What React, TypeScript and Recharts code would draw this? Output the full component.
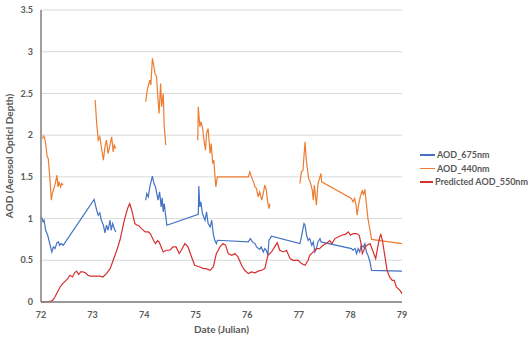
import { LineChart, Line, XAxis, YAxis, CartesianGrid, Legend } from 'recharts';

type Pt = [number, number | null];

// AOD at 675 nm (null = gap in the record)
const aod675: Pt[] = [
  [72.01, 1.02], [72.04, 0.96], [72.06, 0.98], [72.09, 0.86], [72.13, 0.8], [72.17, 0.7], [72.21, 0.6],
  [72.24, 0.66], [72.27, 0.64], [72.31, 0.71], [72.34, 0.72], [72.36, 0.68], [72.39, 0.7], [72.43, 0.68],
  [73.03, 1.23], [73.08, 1.1], [73.11, 1.04], [73.14, 1.07], [73.17, 0.98], [73.21, 0.92], [73.24, 0.83],
  [73.27, 0.92], [73.3, 0.86], [73.34, 0.98], [73.36, 0.86], [73.39, 0.94], [73.42, 0.88], [73.45, 0.84],
  [73.7, null],
  [74.03, 1.22], [74.05, 1.3], [74.08, 1.26], [74.11, 1.38], [74.16, 1.51], [74.19, 1.42], [74.22, 1.38],
  [74.27, 1.22], [74.3, 1.32], [74.33, 1.14], [74.35, 1.25], [74.37, 1.08], [74.39, 1.18], [74.44, 0.92],
  [75.05, 1.05], [75.06, 1.39], [75.08, 1.14], [75.1, 1.2], [75.13, 1.06], [75.18, 0.98], [75.21, 1.08],
  [75.24, 0.94], [75.28, 0.9], [75.31, 0.98], [75.34, 0.82], [75.37, 0.74], [75.4, 0.7], [75.42, 0.74],
  [76.02, 0.72], [76.06, 0.76], [76.1, 0.72], [76.15, 0.7], [76.18, 0.66], [76.24, 0.63], [76.27, 0.66],
  [76.31, 0.6], [76.34, 0.64], [76.37, 0.62], [76.4, 0.56], [76.42, 0.74], [76.47, 0.79],
  [77.02, 0.7], [77.05, 0.78], [77.1, 0.94], [77.12, 0.92], [77.15, 0.8], [77.18, 0.74], [77.21, 0.76],
  [77.25, 0.68], [77.28, 0.72], [77.31, 0.6], [77.34, 0.64], [77.37, 0.72], [77.41, 0.76], [77.43, 0.72],
  [78.02, 0.64], [78.05, 0.62], [78.09, 0.64], [78.12, 0.58], [78.15, 0.64], [78.18, 0.6], [78.21, 0.68],
  [78.25, 0.66], [78.28, 0.7], [78.31, 0.6], [78.34, 0.56], [78.38, 0.48], [78.41, 0.38], [79.0, 0.37],
];

// AOD at 440 nm
const aod440: Pt[] = [
  [72.03, 1.96], [72.05, 1.99], [72.07, 1.97], [72.09, 1.9], [72.12, 1.74], [72.14, 1.72], [72.17, 1.5],
  [72.2, 1.22], [72.22, 1.3], [72.24, 1.34], [72.27, 1.4], [72.29, 1.46], [72.31, 1.52], [72.33, 1.38],
  [72.35, 1.44], [72.38, 1.38], [72.4, 1.42], [72.43, 1.4],
  [72.7, null],
  [73.05, 2.42], [73.08, 2.14], [73.11, 1.94], [73.14, 1.98], [73.17, 1.86], [73.21, 1.7], [73.24, 1.86],
  [73.27, 1.94], [73.3, 1.78], [73.33, 1.86], [73.37, 1.98], [73.4, 1.8], [73.42, 1.88], [73.45, 1.84],
  [73.7, null],
  [74.03, 2.4], [74.06, 2.54], [74.11, 2.66], [74.13, 2.6], [74.16, 2.92], [74.19, 2.82], [74.21, 2.74],
  [74.24, 2.7], [74.27, 2.42], [74.29, 2.26], [74.32, 2.62], [74.34, 2.34], [74.37, 2.5], [74.39, 2.1],
  [74.42, 1.88],
  [74.7, null],
  [75.04, 1.94], [75.05, 2.34], [75.08, 2.1], [75.1, 2.16], [75.13, 2.1], [75.16, 1.94], [75.19, 1.82],
  [75.21, 2.02], [75.24, 2.08], [75.28, 1.78], [75.3, 1.9], [75.33, 1.66], [75.35, 1.7], [75.37, 1.54],
  [75.39, 1.38], [75.42, 1.5],
  [76.02, 1.5], [76.05, 1.56], [76.08, 1.5], [76.12, 1.44], [76.15, 1.38], [76.18, 1.36], [76.21, 1.26],
  [76.24, 1.32], [76.28, 1.22], [76.31, 1.3], [76.34, 1.4], [76.37, 1.34], [76.39, 1.22], [76.42, 1.12],
  [76.44, 1.18],
  [76.7, null],
  [77.02, 1.42], [77.05, 1.56], [77.08, 1.58], [77.12, 1.92], [77.14, 1.74], [77.16, 1.62], [77.19, 1.48],
  [77.22, 1.44], [77.26, 1.34], [77.28, 1.22], [77.3, 1.4], [77.34, 1.16], [77.37, 1.42], [77.4, 1.48],
  [77.43, 1.54], [77.44, 1.44],
  [78.02, 1.24], [78.05, 1.2], [78.08, 1.24], [78.11, 1.16], [78.13, 1.04], [78.16, 1.17], [78.19, 1.26],
  [78.23, 1.34], [78.25, 1.28], [78.28, 1.35], [78.31, 1.17], [78.34, 1.0], [78.38, 0.86], [78.41, 0.75],
  [79.0, 0.7],
];

// predicted AOD at 550 nm
const aod550: Pt[] = [
  [72.0, 0], [72.1, 0], [72.2, 0.01], [72.24, 0.03], [72.27, 0.06], [72.32, 0.12], [72.37, 0.18],
  [72.42, 0.22], [72.47, 0.25], [72.52, 0.28], [72.56, 0.32], [72.61, 0.3], [72.65, 0.35], [72.69, 0.37],
  [72.73, 0.33], [72.77, 0.36], [72.81, 0.36], [72.86, 0.35], [72.91, 0.32], [72.95, 0.31], [73.0, 0.31],
  [73.07, 0.31], [73.14, 0.31], [73.2, 0.3], [73.27, 0.34], [73.34, 0.4], [73.4, 0.5], [73.47, 0.62],
  [73.53, 0.74], [73.57, 0.85], [73.6, 0.94], [73.65, 1.06], [73.69, 1.14], [73.72, 1.18], [73.76, 1.1],
  [73.79, 1.02], [73.82, 0.94], [73.86, 0.92], [73.89, 0.92], [73.95, 0.88], [74.02, 0.84], [74.08, 0.84],
  [74.12, 0.82], [74.18, 0.74], [74.22, 0.7], [74.26, 0.735], [74.29, 0.72], [74.33, 0.66], [74.37, 0.6],
  [74.43, 0.62], [74.5, 0.62], [74.56, 0.66], [74.62, 0.66], [74.68, 0.58], [74.72, 0.62], [74.79, 0.7],
  [74.85, 0.66], [74.92, 0.54], [74.98, 0.44], [75.08, 0.42], [75.15, 0.4], [75.2, 0.4], [75.28, 0.38],
  [75.34, 0.42], [75.37, 0.5], [75.4, 0.58], [75.47, 0.66], [75.53, 0.7], [75.58, 0.68], [75.63, 0.58],
  [75.7, 0.56], [75.76, 0.58], [75.82, 0.54], [75.89, 0.44], [75.95, 0.38], [76.02, 0.34], [76.08, 0.36],
  [76.15, 0.35], [76.21, 0.37], [76.28, 0.38], [76.34, 0.4], [76.37, 0.48], [76.4, 0.56], [76.47, 0.6],
  [76.53, 0.66], [76.58, 0.71], [76.63, 0.62], [76.7, 0.6], [76.76, 0.62], [76.83, 0.52], [76.89, 0.5],
  [76.99, 0.5], [77.05, 0.46], [77.12, 0.44], [77.18, 0.5], [77.21, 0.56], [77.28, 0.6], [77.34, 0.64],
  [77.4, 0.64], [77.47, 0.68], [77.53, 0.7], [77.6, 0.735], [77.64, 0.7], [77.7, 0.76], [77.76, 0.78],
  [77.83, 0.8], [77.9, 0.81], [77.96, 0.84], [78.0, 0.8], [78.05, 0.82], [78.12, 0.82], [78.17, 0.8],
  [78.2, 0.72], [78.23, 0.58], [78.26, 0.62], [78.28, 0.66], [78.32, 0.68], [78.38, 0.7], [78.43, 0.62],
  [78.49, 0.52], [78.53, 0.66], [78.57, 0.78], [78.59, 0.81], [78.62, 0.74], [78.67, 0.54], [78.71, 0.38],
  [78.76, 0.3], [78.81, 0.26], [78.85, 0.26], [78.89, 0.18], [78.96, 0.14], [79.0, 0.1],
];

const xTicks = [72, 73, 74, 75, 76, 77, 78, 79];
const yTicks = [0, 0.5, 1, 1.5, 2, 2.5, 3, 3.5];

const toRows = (pts: Pt[]) => pts.map(([x, y]) => ({ x, y }));

const FONT = 'Lato, "Open Sans", sans-serif';
const GREY = '#595959';

function LegendBox({ payload }: any) {
  return (
    <div style={{ fontFamily: FONT, fontSize: 9, fontWeight: 700, color: GREY, whiteSpace: 'nowrap' }}>
      {(payload || []).map((p: any) => (
        <div key={p.value} style={{ height: 13.5, display: 'flex', alignItems: 'center' }}>
          <span style={{ display: 'inline-block', width: 15, height: 1.5, background: p.color, marginRight: 2 }} />
          <span>{p.value}</span>
        </div>
      ))}
    </div>
  );
}

export default function App() {
  return (
    <div style={{ position: 'absolute', left: 0, top: 0, fontFamily: FONT }}>
      <LineChart width={528} height={340} margin={{ top: 10, right: 18, left: 0, bottom: 7 }}>
        <CartesianGrid vertical={false} stroke="#d9d9d9" />
        <XAxis
          type="number"
          dataKey="x"
          domain={[72, 79]}
          ticks={xTicks}
          allowDuplicatedCategory={false}
          height={31}
          tickLine={false}
          axisLine={{ stroke: '#7f7f7f', strokeWidth: 1.5 }}
          tick={{ fill: GREY, fontSize: 9, fontWeight: 700, fontFamily: FONT, dy: 2 }}
          label={{ value: 'Date (Julian)', position: 'insideBottom', offset: 0, fill: GREY, fontSize: 10, fontWeight: 700, fontFamily: FONT }}
        />
        <YAxis
          type="number"
          domain={[0, 3.5]}
          ticks={yTicks}
          width={41}
          tickLine={false}
          axisLine={{ stroke: '#7f7f7f', strokeWidth: 1.5 }}
          tick={{ fill: GREY, fontSize: 9, fontWeight: 700, fontFamily: FONT }}
          label={{
            value: 'AOD (Aerosol Opticl Depth)',
            angle: -90,
            position: 'insideLeft',
            offset: 9,
            fill: GREY,
            fontSize: 10,
            fontWeight: 700,
            fontFamily: FONT,
            style: { textAnchor: 'middle' },
          }}
        />
        <Legend
          layout="vertical"
          align="right"
          verticalAlign="middle"
          itemSorter={null as any}
          content={<LegendBox />}
          wrapperStyle={{ left: 420, top: 148, width: 108 }}
        />
        <Line data={toRows(aod675)} dataKey="y" name="AOD_675nm" type="linear" stroke="#4472c4" strokeWidth={1.2} dot={false} isAnimationActive={false} />
        <Line data={toRows(aod440)} dataKey="y" name="AOD_440nm" type="linear" stroke="#ed7d31" strokeWidth={1.2} dot={false} isAnimationActive={false} />
        <Line data={toRows(aod550)} dataKey="y" name="Predicted AOD_550nm" type="linear" stroke="#d62f2f" strokeWidth={1.2} dot={false} isAnimationActive={false} />
      </LineChart>
    </div>
  );
}
